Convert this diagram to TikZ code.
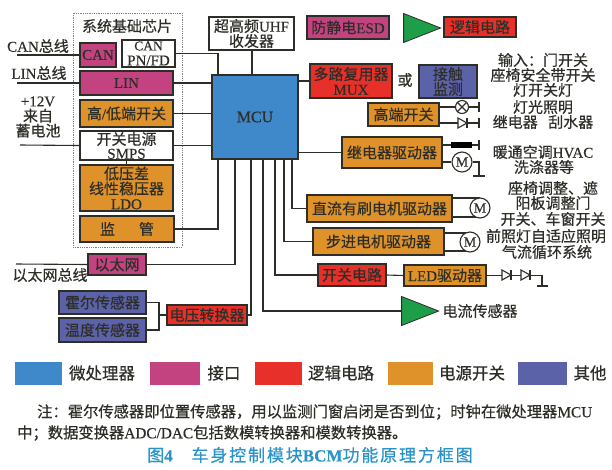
\documentclass[tikz,border=0pt]{standalone}
\usepackage{fontspec}
\setmainfont{Noto Sans CJK SC}[FakeBold=0.5]
\newfontfamily\lat{Liberation Serif}[FakeBold=0.4]
\newcommand{\E}[1]{{\lat #1}}
\usetikzlibrary{shapes.geometric}
\definecolor{cblue}{HTML}{3F88C9}
\definecolor{cmag}{HTML}{C2437F}
\definecolor{cred}{HTML}{E8302A}
\definecolor{cora}{HTML}{E0922A}
\definecolor{cpur}{HTML}{5C62A8}
\definecolor{cgrn}{HTML}{1F9E4A}
\definecolor{cink}{HTML}{2E2E28}
\definecolor{ccap}{HTML}{2A93C8}
\newcommand{\fs}[1]{\fontsize{#1}{#1}\selectfont}
\tikzset{
 box/.style={draw=cink,line width=1.1pt,inner sep=0pt,align=center,text=cink,font=\fontsize{15}{15}\selectfont},
 wire/.style={draw=cink,line width=1.1pt},
 lbl/.style={inner sep=0pt,align=center,text=cink,font=\fontsize{15}{15}\selectfont},
 tri/.style={isosceles triangle,isosceles triangle stretches,draw=cink,line width=.8pt,fill=cgrn,inner sep=0pt,minimum width=29pt,minimum height=37pt},
 mot/.style={circle,draw=cink,line width=1.1pt,fill=white,inner sep=0pt,minimum size=20pt,text=cink,font=\lat\fontsize{14}{14}\selectfont},
 swatch/.style={inner sep=0pt,minimum height=23pt},
}
% name, fill, x1, y1, x2, y2, text
\newcommand{\bx}[7]{\node[box,fill=#2,minimum width={(#5-#3)*1pt},minimum height={(#6-#4)*1pt}] (#1) at ({(#3+#5)/2},{(#4+#6)/2}) {#7};}
\newcommand{\diode}[2]{\filldraw[wire,fill=white] (#1-5,#2-5) -- (#1-5,#2+5) -- (#1+4,#2) -- cycle; \draw[wire] (#1+4,#2-5) -- (#1+4,#2+5);}
\newcommand{\stopbar}[2]{\draw[wire] (#1,#2-5) -- (#1,#2+5);}
\begin{document}
\begin{tikzpicture}[x=1pt,y=-1pt]
\useasboundingbox (0,0) rectangle (612,469);
\fill[white] (0,0) rectangle (612,469);
% chip group
\draw[gray,line width=.8pt,densely dotted] (73,13) rectangle (182,247);
\node[lbl] (sbc) at (127,26) {系统基础芯片};
% coordinates on the MCU
\bx{mcu}{cblue}{212}{75}{298}{159}{\E{\fontsize{16}{16}\selectfont MCU}}
\coordinate (b1) at (218,159);
\coordinate (b2) at (235,159);
\coordinate (b3) at (251,159);
\coordinate (b4) at (263,159);
\coordinate (b5) at (275,159);
\coordinate (b6) at (284,159);
\coordinate (b7) at (292,159);
\coordinate (t1) at (218,75);
\coordinate (t2) at (252,75);
% boxes
\bx{can}{cmag}{80}{43}{116}{67}{\E{CAN}}
\bx{canpn}{white}{122}{40}{175}{67}{\fontsize{13.5}{13}\selectfont\E{CAN}\\\E{PN/FD}}
\bx{lin}{cmag}{80}{71}{173}{95}{\E{LIN}}
\bx{hl}{cora}{80}{100}{173}{127}{高\E{/}低端开关}
\bx{smps}{white}{80}{131}{173}{160}{开关电源\\[-1pt]\E{SMPS}}
\bx{ldo}{cora}{80}{165}{173}{211}{低压差\\线性稳压器\\\E{LDO}}
\bx{sup}{cora}{80}{216}{174}{242}{监\hspace{1.6em}管}
\bx{eth}{cmag}{88}{254}{146}{275}{以太网}
\bx{hall}{cpur}{59}{291}{146}{314}{霍尔传感器}
\bx{temp}{cpur}{59}{318}{146}{342}{温度传感器}
\bx{conv}{cred}{167}{305}{247}{325}{电压转换器}
\bx{uhf}{white}{209}{17}{294}{50}{超高频\E{UHF}\\收发器}
\bx{esd}{cmag}{307}{16}{389}{39}{防静电\E{ESD}}
\node[tri] (t1g) at (413.5,28) {};
\bx{logic}{cred}{444}{17}{516}{37}{逻辑电路}
\bx{mux}{cred}{310}{64}{392}{98}{多路复用器\\\E{MUX}}
\node[lbl] (or) at (405,80) {或};
\bx{touch}{cpur}{419}{65}{477}{98}{接触\\监测}
\bx{hs}{cora}{368}{103}{439}{126}{高端开关}
\bx{relay}{cora}{342}{137}{442}{168}{继电器驱动器}
\bx{dc}{cora}{307}{195}{452}{222}{直流有刷电机驱动器}
\bx{step}{cora}{313}{228}{444}{255}{步进电机驱动器}
\bx{swc}{cred}{318}{264}{386}{286}{开关电路}
\bx{led}{cora}{404}{265}{486}{286}{\E{LED}驱动器}
\node[tri] (t2g) at (411.5,311) {};
\node[lbl] (cs) at (480,311) {电流传感器};
% left free ends
\coordinate (canl) at (17,55);
\coordinate (linl) at (17,83);
\coordinate (batl) at (20,145);
\coordinate (ethl) at (16,264);
\draw[wire] (canl) -- (can.west |- canl);
\draw[wire] (linl) -- (lin.west);
\draw[wire] (batl) -- (smps.west);
\draw[wire] (ethl) -- (eth.west);
\draw[wire] (canpn.east) -| (t1);
\draw[wire] (uhf.south -| t2) -- (t2);
\draw[wire] (lin.east) -- (lin.east -| mcu.west);
\draw[wire] (hl.east) -- (hl.east -| mcu.west);
\draw[wire] (smps.east) -- (smps.east -| mcu.west);
\draw[wire] (smps.south) -- (ldo.north);
\draw[wire] (sup.east) -| (b1);
\draw[wire] (eth.east) -| (b2);
\draw[wire] (conv.east) -| (b3);
\draw[wire] (t2g.lower side) -| (b4);
\draw[wire] (swc.west) -| (b5);
\draw[wire] (step.west) -| (b6);
\draw[wire] (dc.west) -| (b7);
\draw[wire] (mcu.east |- mux.west) -- (mux.west);
\draw[wire] (mcu.east |- relay.west) -- (relay.west);
\draw[wire] (swc.east) -- (led.west);
% sensors
\coordinate (sj) at (159,315);
\draw[wire] (hall.east) -| (sj);
\draw[wire] (temp.east) -| (sj);
\draw[wire] (sj) -- (conv.west);
% high side loads
\node[circle,draw=cink,line width=1.1pt,fill=white,inner sep=0pt,minimum size=13pt] (lamp) at (462,107) {};
\draw[wire] (lamp.45) -- (lamp.225) (lamp.135) -- (lamp.-45);
\coordinate (e1) at (479,107);
\coordinate (e2) at (479,123);
\draw[wire] (lamp.west -| hs.east) -- (lamp.west) (lamp.east) -- (e1);
\draw[wire] (e2 -| hs.east) -- (e2);
\diode{463}{123}
\stopbar{479}{107}
\stopbar{479}{123}
% relay loads
\coordinate (e3) at (479,145);
\draw[wire] (e3 -| relay.east) -- (e3);
\fill[black] (451,142) rectangle (472,148);
\stopbar{479}{145}
\node[mot] (m1) at (462,162) {M};
\coordinate (g1) at (479,176);
\draw[wire] (m1.west -| relay.east) -- (m1.west);
\draw[wire] (m1.east) -| (g1);
\draw[wire] (473,176) -- (485,176);
% motors
\coordinate (m2a) at (480,198);
\coordinate (m2c) at (480,217);
\draw[wire] (dc.east |- m2a) -- (m2a);
\draw[wire] (dc.east |- m2c) -- (m2c);
\node[mot] (m2) at (480,208) {M};
\coordinate (m3a) at (470,233);
\coordinate (m3c) at (470,251);
\draw[wire] (step.east |- m3a) -- (m3a);
\draw[wire] (step.east |- m3c) -- (m3c);
\node[mot] (m3) at (470,242) {M};
% LED string
\coordinate (g2) at (542,285);
\draw[wire] (led.east) -| (g2);
\draw[wire] (537,286) -- (548,286);
\diode{507}{275}
\diode{526}{275}
% left labels
\node[lbl] (l1) at (38,46) {\E{CAN}总线};
\node[lbl] (l2) at (39,73) {\E{LIN}总线};
\node[lbl] (l3) at (38,117) {\E{+12V}\\来自\\蓄电池};
\node[lbl] (l4) at (50,275) {以太网总线};
% right labels
\node[lbl] (r1) at (543,60) {输入：门开关};
\node[lbl] (r2) at (543,75) {座椅安全带开关};
\node[lbl] (r3) at (543,90) {灯开关灯};
\node[lbl] (r4) at (543,107) {灯光照明};
\node[lbl] (r5) at (543,122) {继电器\hspace{.7em}刮水器};
\node[lbl] (r6) at (543,152) {暖通空调\E{HVAC}};
\node[lbl] (r7) at (544,167) {洗涤器等};
\node[lbl] (r8) at (553,188) {座椅调整、遮};
\node[lbl] (r9) at (553,203) {阳板调整门};
\node[lbl] (r10) at (553,219) {开关、车窗开关};
\node[lbl] (r11) at (546,236) {前照灯自适应照明};
\node[lbl] (r12) at (547,252) {气流循环系统};
% legend
\node[swatch,fill=cblue,minimum width=47pt] (s1) at (38.5,373) {};
\node[lbl,font=\fs{16.5}] (s1t) at (102,373) {微处理器};
\node[swatch,fill=cmag,minimum width=50pt] (s2) at (175,373) {};
\node[lbl,font=\fs{16.5}] (s2t) at (224,373) {接口};
\node[swatch,fill=cred,minimum width=47pt] (s3) at (278,373) {};
\node[lbl,font=\fs{16.5}] (s3t) at (341,373) {逻辑电路};
\node[swatch,fill=cora,minimum width=45pt] (s4) at (410,373) {};
\node[lbl,font=\fs{16.5}] (s4t) at (472,373) {电源开关};
\node[swatch,fill=cpur,minimum width=49pt] (s5) at (542,373) {};
\node[lbl,font=\fs{16.5}] (s5t) at (590,373) {其他};
% note and caption
\node[lbl,anchor=west,font=\fs{15.3}] (n1) at (37,412) {注：霍尔传感器即位置传感器，用以监测门窗启闭是否到位；时钟在微处理器\E{MCU}};
\node[lbl,anchor=west,font=\fs{15.3}] (n2) at (17,433) {中；数据变换器\E{ADC/DAC}包括数模转换器和模数转换器。};
\node[lbl,text=ccap,font=\fs{17}] (cap) at (310,455) {\addfontfeature{LetterSpace=11}图\E{\bfseries 4}\hspace{1.1em}车身控制模块\E{\bfseries BCM}功能原理方框图};
\end{tikzpicture}
\end{document}
